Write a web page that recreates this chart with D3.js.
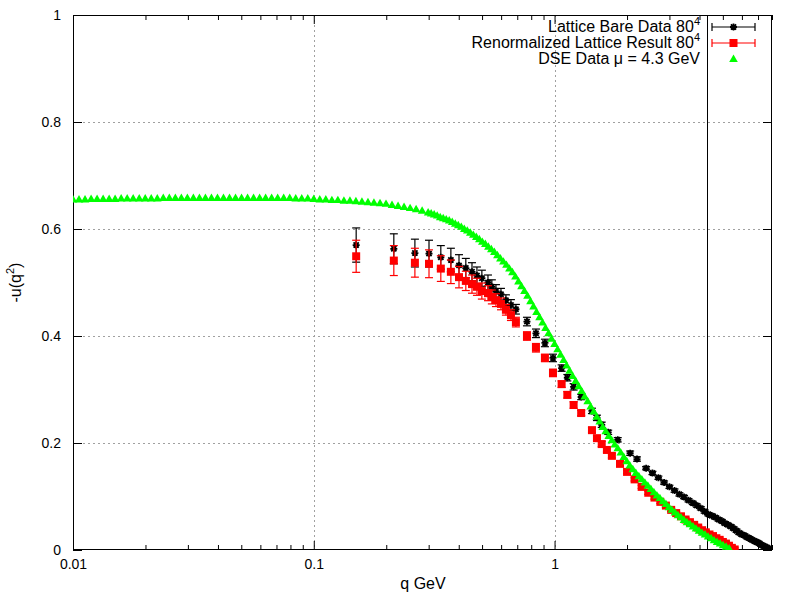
<!DOCTYPE html>
<html><head><meta charset="utf-8">
<script src="https://cdn.jsdelivr.net/npm/d3@7"></script>
<style>body{margin:0;background:#fff} text{font-family:"Liberation Sans",Arial,sans-serif;}</style>
</head><body><svg id="c" width="800" height="600"></svg>
<script>
// ---------- data ----------
const xTickValues = [0.01, 0.1, 1];
const yTickValues = [0, 0.2, 0.4, 0.6, 0.8, 1];
const legendLabels = ["Lattice Bare Data 80", "Renormalized Lattice Result 80", "DSE Data \u03BC = 4.3 GeV"];
const muValue = 4.3;

const bareQ = [0.150,0.215,0.263,0.301,0.337,0.371,0.401,0.428,0.454,0.476,0.499,0.529,0.549,0.571,0.599,0.628,0.659,0.691,0.768,0.837,0.912,0.985,1.07,1.13,1.20,1.29,1.43,1.50,1.57,1.67,1.83,2.06,2.20,
2.40,2.55,2.70,2.85,3.00,3.15,3.30,3.45,3.60,3.75,3.90,4.05,4.20,4.35,4.50,4.65,4.80,4.95,5.10,5.25,5.40,5.55,5.70,5.85,6.00,6.15,6.30,6.45,6.60,6.75,6.90,7.05,7.20,7.35,7.50,7.65,7.80];
const bareU = [0.570,0.563,0.555,0.554,0.547,0.542,0.532,0.527,0.520,0.513,0.508,0.500,0.492,0.484,0.478,0.467,0.458,0.450,0.427,0.405,0.387,0.359,0.340,0.322,0.305,0.286,0.260,0.247,0.234,0.220,0.206,0.181,0.170,
0.153,0.144,0.135,0.126,0.118,0.111,0.104,0.099,0.093,0.088,0.083,0.078,0.072,0.067,0.064,0.061,0.057,0.054,0.050,0.047,0.044,0.040,0.036,0.032,0.029,0.027,0.024,0.022,0.019,0.017,0.015,0.013,0.010,0.008,0.006,0.004,0.002];
const bareErr = [0.032,0.028,0.026,0.025,0.022,0.022,0.020,0.018,0.017,0.016,0.015,0.014,0.013,0.012,0.011,0.010,0.010,0.009,0.008,0.008,0.007,0.007,0.006,0.006,0.006,0.005,0.005,0.005,0.005,0.004,0.004,0.004,0.004,
0.003,0.003,0.003,0.003,0.003,0.003,0.003,0.003,0.003,0.003,0.003,0.003,0.003,0.003,0.003,0.003,0.003,0.003,0.003,0.003,0.003,0.003,0.003,0.003,0.003,0.003,0.003,0.003,0.003,0.003,0.003,0.003,0.003,0.003,0.003,0.003,0.003];

const renQ = [0.150,0.215,0.263,0.301,0.337,0.371,0.401,0.428,0.454,0.476,0.499,0.529,0.549,0.571,0.599,0.628,0.659,0.691,0.768,0.837,0.912,0.985,1.07,1.13,1.20,1.29,1.43,1.50,1.57,1.65,1.73,1.87,
2.00,2.15,2.30,2.45,2.60,2.75,2.90,3.05,3.20,3.35,3.50,3.65,3.80,3.95,4.10,4.25,4.40,4.55,4.70,4.85,5.00,5.15,5.30,5.45,5.60];
const renU = [0.549,0.541,0.537,0.535,0.526,0.520,0.510,0.503,0.497,0.492,0.484,0.480,0.473,0.467,0.460,0.449,0.439,0.426,0.400,0.378,0.359,0.331,0.310,0.290,0.271,0.256,0.224,0.209,0.198,0.187,0.176,0.161,
0.146,0.132,0.118,0.107,0.098,0.090,0.083,0.075,0.069,0.063,0.057,0.052,0.047,0.042,0.037,0.033,0.029,0.026,0.022,0.019,0.015,0.012,0.008,0.004,0.001];
const renErr = [0.030,0.028,0.027,0.026,0.024,0.022,0.020,0.018,0.017,0.016,0.015,0.014,0.013,0.012,0.011,0.010,0.010,0.009,0.008,0.008,0.007,0.007,0.006,0.006,0.006,0.005,0.005,0.005,0.005,0.004,0.004,0.004,
0.003,0.003,0.003,0.003,0.003,0.003,0.003,0.003,0.003,0.003,0.003,0.003,0.003,0.003,0.003,0.003,0.003,0.003,0.003,0.003,0.003,0.003,0.003,0.003,0.003];

const dseQ = [0.01000,0.01059,0.01122,0.01189,0.01259,0.01334,0.01413,0.01496,0.01585,0.01679,0.01778,0.01884,0.01995,0.02113,0.02239,0.02371,0.02512,0.02661,0.02818,0.02985,
0.03162,0.03350,0.03548,0.03758,0.03981,0.04217,0.04467,0.04732,0.05012,0.05309,0.05623,0.05957,0.06310,0.06683,0.07079,0.07499,0.07943,0.08414,0.08913,0.09441,
0.1000,0.1059,0.1122,0.1189,0.1259,0.1334,0.1413,0.1496,0.1585,0.1679,0.1778,0.1884,0.1995,0.2113,0.2239,0.2371,0.2512,0.2661,0.2818,
0.29854,0.30726,0.31623,0.32546,0.33497,0.34475,0.35481,0.36517,0.37584,0.38681,0.39811,0.40973,0.42170,0.43401,0.44668,0.45973,0.47315,0.48697,0.50119,0.51582,
0.53088,0.54639,0.56234,0.57876,0.59566,0.61306,0.63096,0.64938,0.66834,0.68785,0.70795,0.72862,0.74989,0.77179,0.79433,0.81752,0.84140,0.86596,0.89125,0.91728,0.94406,0.97163,
1.0000,1.0292,1.0593,1.0902,1.1220,1.1548,1.1885,1.2232,1.2589,1.2957,1.3335,1.3725,1.4125,1.4538,1.4962,1.5399,1.5849,1.6312,1.6788,1.7278,
1.7783,1.8302,1.8836,1.9387,1.9953,2.0535,2.1135,2.1752,2.2387,2.3041,2.3714,2.4406,2.5119,2.5852,2.6607,2.7384,2.8184,2.9007,2.9854,3.0726,
3.1623,3.2546,3.3497,3.4475,3.5481,3.6517,3.7584,3.8681,3.9811,4.0973,4.2170,4.3401,4.4668,4.5973,4.7315,4.8697,5.0119,5.1582,5.3088];
const dseU = [0.655,0.655,0.655,0.656,0.656,0.656,0.656,0.656,0.657,0.657,0.657,0.657,0.657,0.657,0.657,0.658,0.658,0.658,0.658,0.658,
0.658,0.658,0.658,0.658,0.658,0.658,0.658,0.658,0.658,0.658,0.658,0.658,0.658,0.658,0.658,0.658,0.658,0.657,0.657,0.657,
0.656,0.655,0.655,0.654,0.654,0.653,0.653,0.652,0.651,0.650,0.649,0.648,0.647,0.645,0.643,0.641,0.639,0.637,0.634,
0.631,0.629,0.627,0.625,0.622,0.620,0.618,0.616,0.613,0.610,0.607,0.604,0.600,0.597,0.593,0.589,0.585,0.581,0.576,0.572,
0.567,0.562,0.557,0.551,0.545,0.539,0.533,0.526,0.519,0.511,0.502,0.493,0.484,0.475,0.465,0.455,0.445,0.435,0.425,0.415,0.405,0.395,
0.385,0.375,0.365,0.355,0.345,0.335,0.325,0.316,0.306,0.297,0.287,0.278,0.268,0.259,0.249,0.240,0.230,0.222,0.213,0.205,
0.197,0.190,0.182,0.174,0.166,0.158,0.151,0.144,0.138,0.132,0.126,0.120,0.114,0.108,0.102,0.097,0.091,0.086,0.080,0.075,
0.070,0.065,0.061,0.056,0.052,0.048,0.044,0.040,0.036,0.032,0.029,0.025,0.022,0.018,0.015,0.012,0.009,0.006,0.003];

// ---------- layout ----------
const L = 73, R = 772, T = 15, B = 550;
const svg = d3.select("#c");
const x = d3.scaleLog().domain([0.01, 8]).range([L, R]);
const y = d3.scaleLinear().domain([0, 1]).range([B, T]);

// grid
const grid = svg.append("g").attr("stroke", "#a0a0a0").attr("stroke-width", 1).attr("stroke-dasharray", "2,3");
xTickValues.filter(v => v > 0.01).forEach(v => {
  grid.append("line").attr("x1", Math.round(x(v)) + 0.5).attr("x2", Math.round(x(v)) + 0.5).attr("y1", T).attr("y2", B);
});
yTickValues.filter(v => v > 0 && v < 1).forEach(v => {
  grid.append("line").attr("y1", Math.round(y(v)) + 0.5).attr("y2", Math.round(y(v)) + 0.5).attr("x1", L).attr("x2", R);
});

// minor ticks (log)
const minorVals = [];
[0.01, 0.1, 1].forEach(d => { for (let k = 2; k <= 9; k++) { const v = d * k; if (v <= 8) minorVals.push(v); } });

// axes
const fmtX = d => d3.format("")(d);
const axB = svg.append("g").attr("transform", `translate(0,${B})`)
  .call(d3.axisBottom(x).tickValues(xTickValues).tickFormat(fmtX).tickSizeInner(-9).tickSizeOuter(0).tickPadding(9));
const axT = svg.append("g").attr("transform", `translate(0,${T})`)
  .call(d3.axisTop(x).tickValues(xTickValues).tickFormat("").tickSizeInner(-9).tickSizeOuter(0));
const axBm = svg.append("g").attr("transform", `translate(0,${B})`)
  .call(d3.axisBottom(x).tickValues(minorVals).tickFormat("").tickSizeInner(-5).tickSizeOuter(0));
const axTm = svg.append("g").attr("transform", `translate(0,${T})`)
  .call(d3.axisTop(x).tickValues(minorVals).tickFormat("").tickSizeInner(-5).tickSizeOuter(0));
const axL = svg.append("g").attr("transform", `translate(${L},0)`)
  .call(d3.axisLeft(y).tickValues(yTickValues).tickFormat(d3.format("")).tickSizeInner(-9).tickSizeOuter(0).tickPadding(12));
const axR = svg.append("g").attr("transform", `translate(${R},0)`)
  .call(d3.axisRight(y).tickValues(yTickValues).tickFormat("").tickSizeInner(-9).tickSizeOuter(0));
[axB, axT, axBm, axTm, axL, axR].forEach(g => {
  g.select(".domain").remove();
  g.selectAll("line").attr("stroke", "#000");
  g.selectAll("text").attr("font-size", 14).attr("fill", "#000").attr("font-family", "Liberation Sans, Arial, sans-serif");
});

// border
svg.append("rect").attr("x", L + 0.5).attr("y", T + 0.5).attr("width", R - L - 1).attr("height", B - T - 1)
  .attr("fill", "none").attr("stroke", "#000").attr("stroke-width", 1);

// vertical mu line
svg.append("line").attr("x1", Math.round(x(muValue)) + 0.5).attr("x2", Math.round(x(muValue)) + 0.5)
  .attr("y1", T).attr("y2", B).attr("stroke", "#000").attr("stroke-width", 1);

// axis labels
svg.append("text").attr("x", 423).attr("y", 589).attr("text-anchor", "middle").attr("font-size", 16).text("q GeV");
const yl = svg.append("text").attr("transform", `translate(21,${(T + B) / 2}) rotate(-90)`).attr("text-anchor", "middle").attr("font-size", 16);
yl.append("tspan").text("-u(q");
yl.append("tspan").attr("font-size", 11).attr("dy", -7).text("2");
yl.append("tspan").attr("dy", 7).text(")");

// clip
svg.append("clipPath").attr("id", "clip").append("rect").attr("x", L).attr("y", T).attr("width", R - L).attr("height", B - T);
const plot = svg.append("g").attr("clip-path", "url(#clip)");

const bare = bareQ.map((q, i) => ({ q, u: bareU[i], e: bareErr[i] }));
const ren = renQ.map((q, i) => ({ q, u: renU[i], e: renErr[i] }));
const dse = dseQ.map((q, i) => ({ q, u: dseU[i] }));

function errorBars(g, data, color) {
  const eg = g.append("g").attr("stroke", color).attr("stroke-width", 1.2);
  data.forEach(d => {
    const cx = x(d.q), y1 = y(d.u + d.e), y2 = y(d.u - d.e);
    eg.append("line").attr("x1", cx).attr("x2", cx).attr("y1", y1).attr("y2", y2);
    eg.append("line").attr("x1", cx - 4).attr("x2", cx + 4).attr("y1", y1).attr("y2", y1);
    eg.append("line").attr("x1", cx - 4).attr("x2", cx + 4).attr("y1", y2).attr("y2", y2);
  });
}
function starPath(cx, cy) {
  const a = 3.5, b = 2.6;
  return `M${cx - a},${cy}L${cx + a},${cy}M${cx},${cy - a}L${cx},${cy + a}M${cx - b},${cy - b}L${cx + b},${cy + b}M${cx - b},${cy + b}L${cx + b},${cy - b}`;
}
function drawStar(g, cx, cy) {
  g.append("path").attr("d", starPath(cx, cy)).attr("stroke", "#000").attr("stroke-width", 1.8).attr("fill", "none");
  g.append("circle").attr("cx", cx).attr("cy", cy).attr("r", 2.2).attr("fill", "#000");
}
const triSym = d3.symbol().type(d3.symbolTriangle).size(32);

// black bare data
errorBars(plot, bare, "#000");
const bg = plot.append("g");
bare.forEach(d => drawStar(bg, x(d.q), y(d.u)));

// red renormalized
errorBars(plot, ren, "#ff0000");
plot.append("g").selectAll("rect").data(ren).join("rect")
  .attr("x", d => x(d.q) - 4).attr("y", d => y(d.u) - 4).attr("width", 8).attr("height", 8).attr("fill", "#ff0000");

// green DSE
plot.append("g").selectAll("path").data(dse).join("path")
  .attr("transform", d => `translate(${x(d.q)},${y(d.u) + 0.5})`).attr("d", triSym).attr("fill", "#00ff00");

// legend
const lg = svg.append("g");
const rows = [27, 43, 59];
const sx1 = 712, sx2 = 755, sc = 733.5;
legendLabels.forEach((lab, i) => {
  const t = lg.append("text").attr("x", 700).attr("y", rows[i] + 5).attr("text-anchor", "end").attr("font-size", 16);
  t.append("tspan").text(lab);
  if (i < 2) t.append("tspan").attr("font-size", 11).attr("dy", -7).text("4");
});
[["#000", 0], ["#ff0000", 1]].forEach(([c, i]) => {
  const yy = rows[i];
  lg.append("line").attr("x1", sx1).attr("x2", sx2).attr("y1", yy).attr("y2", yy).attr("stroke", c).attr("stroke-width", 1.2);
  lg.append("line").attr("x1", sx1).attr("x2", sx1).attr("y1", yy - 4).attr("y2", yy + 4).attr("stroke", c).attr("stroke-width", 1.2);
  lg.append("line").attr("x1", sx2).attr("x2", sx2).attr("y1", yy - 4).attr("y2", yy + 4).attr("stroke", c).attr("stroke-width", 1.2);
});
drawStar(lg, sc, rows[0]);
lg.append("rect").attr("x", sc - 4).attr("y", rows[1] - 4).attr("width", 8).attr("height", 8).attr("fill", "#ff0000");
lg.append("path").attr("transform", `translate(${sc},${rows[2] + 0.5})`).attr("d", triSym).attr("fill", "#00ff00");
</script></body></html>
